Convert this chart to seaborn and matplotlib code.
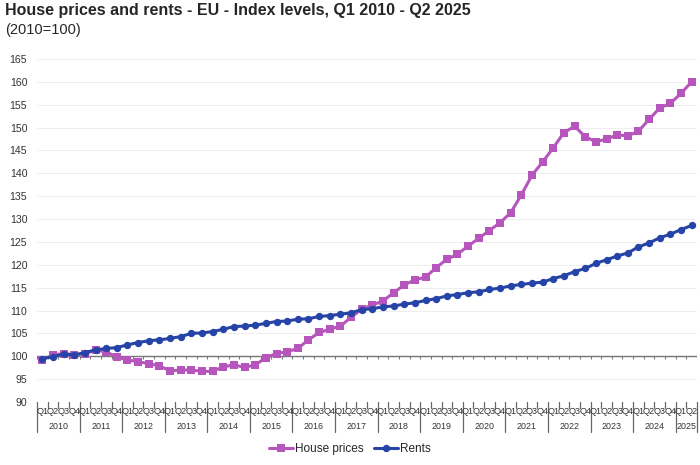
import pandas as pd
import matplotlib.pyplot as plt
import seaborn as sns
from matplotlib.lines import Line2D

# Quarterly index levels, 2010=100, Q1 2010 - Q2 2025
year_labels = [str(y) for y in range(2010, 2026)]
quarter_labels = ["Q1", "Q2", "Q3", "Q4"]
periods = [f"{y}{q}" for y in year_labels for q in quarter_labels][:62]

house_prices = [
    99.2, 100.3, 100.6, 100.3, 100.6, 101.3, 101.0, 99.8,
    99.2, 98.8, 98.4, 97.9, 96.8, 97.0, 97.0, 96.7,
    96.7, 97.7, 98.1, 97.6, 98.1, 99.7, 100.6, 101.0,
    101.7, 103.6, 105.2, 105.9, 106.6, 108.5, 110.3, 111.2,
    112.1, 113.9, 115.6, 116.7, 117.3, 119.4, 121.2, 122.3,
    124.1, 125.8, 127.5, 129.2, 131.4, 135.3, 139.6, 142.5,
    145.6, 148.9, 150.3, 148.0, 146.9, 147.5, 148.4, 148.2,
    149.2, 151.8, 154.3, 155.3, 157.5, 160.0,
]
rents = [
    99.5, 99.9, 100.5, 100.3, 100.8, 101.4, 101.7, 101.9,
    102.5, 103.0, 103.4, 103.6, 103.9, 104.3, 105.0, 105.1,
    105.4, 105.9, 106.5, 106.6, 106.8, 107.2, 107.6, 107.7,
    108.1, 108.2, 108.7, 108.9, 109.2, 109.5, 110.2, 110.4,
    110.8, 111.0, 111.4, 111.7, 112.2, 112.6, 113.2, 113.5,
    113.9, 114.1, 114.6, 114.9, 115.4, 115.7, 116.0, 116.2,
    117.0, 117.6, 118.5, 119.2, 120.3, 121.1, 121.9, 122.6,
    123.9, 124.8, 125.9, 126.7, 127.7, 128.6,
]
y_ticks = list(range(90, 170, 5))

PURPLE = "#B656BD"
BLUE = "#2644A7"

df = pd.DataFrame({
    "period": periods * 2,
    "idx": list(range(len(periods))) * 2,
    "value": house_prices + rents,
    "series": ["House prices"] * len(periods) + ["Rents"] * len(periods),
})

sns.set_style("white")
plt.rcParams["font.family"] = ["Liberation Sans", "DejaVu Sans"]

fig = plt.figure(figsize=(7, 4.65), dpi=100)
ax = fig.add_axes([37 / 700, 1 - 402 / 465, 660 / 700, 343 / 465])

sns.lineplot(
    data=df, x="idx", y="value", hue="series", style="series",
    hue_order=["House prices", "Rents"],
    palette={"House prices": PURPLE, "Rents": BLUE},
    markers={"House prices": "s", "Rents": "o"},
    dashes=False, linewidth=2.2, markersize=5.3, markeredgewidth=0,
    ax=ax,
)

n = len(periods)
ax.set_xlim(-0.5, n - 0.5)
ax.set_ylim(90, 165)
ax.set_yticks(y_ticks)
ax.set_yticklabels([str(t) for t in y_ticks], fontsize=7.6, color="#333333")
ax.tick_params(axis="y", length=0, pad=7)
ax.set_xticks([])
ax.set_xlabel("")
ax.set_ylabel("")
for s in ax.spines.values():
    s.set_visible(False)
ax.grid(axis="y", color="#eeeeee", linewidth=0.8)
ax.set_axisbelow(True)

# horizontal axis crossing at 100 with small ticks between quarters
ax.axhline(100, color="#777777", linewidth=1.0, zorder=1.5)
ax.vlines([i - 0.5 for i in range(n + 1)], 99.35, 100, color="#777777",
          linewidth=0.8, zorder=1.5)

# category axis below the plot: quarters and years
tr = ax.get_xaxis_transform()
for i in range(n + 1):
    long = (i % 4 == 0) or i == n
    ax.add_line(Line2D([i - 0.5, i - 0.5], [0, -0.088 if long else -0.018],
                       transform=tr, color="#666666", linewidth=0.9,
                       clip_on=False))
for i, p in enumerate(periods):
    ax.text(i, -0.029, p[4:], transform=tr, ha="center", va="center",
            fontsize=6.6, color="#333333", clip_on=False)
for k, y in enumerate(year_labels):
    first = k * 4
    last = min(first + 3, n - 1)
    ax.text((first + last) / 2, -0.07, y, transform=tr, ha="center",
            va="center", fontsize=6.4, color="#333333", clip_on=False)

handles, labels = ax.get_legend_handles_labels()
ax.get_legend().remove()
fig.legend(handles, labels, loc="center", bbox_to_anchor=(0.5, 1 - 449 / 465),
           ncol=2, frameon=False, fontsize=8.5, handlelength=2.0,
           columnspacing=0.9, handletextpad=0.2)

fig.text(5 / 700, 1 - 11 / 465, "House prices and rents - EU - Index levels, Q1 2010 - Q2 2025",
         fontsize=11.5, fontweight="bold", va="center", ha="left")
fig.text(5 / 700, 1 - 30 / 465, "(2010=100)", fontsize=10.5, va="center", ha="left")

fig.savefig("out.png", dpi=100)
plt.close(fig)
